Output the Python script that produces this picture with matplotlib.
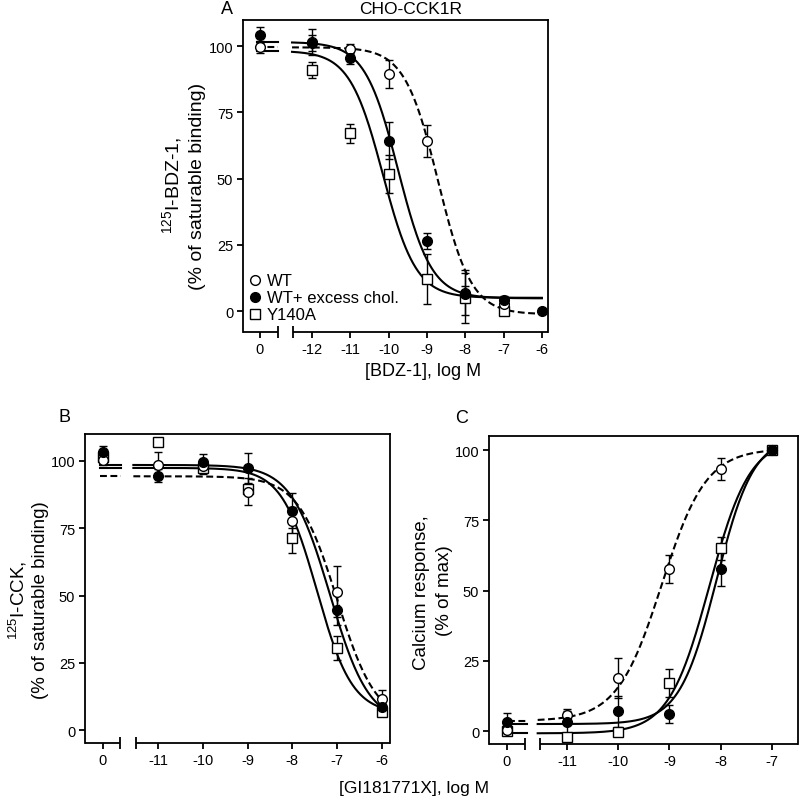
import numpy as np
import matplotlib.pyplot as plt
from matplotlib.lines import Line2D

plt.rcParams["font.family"] = ["Liberation Sans", "DejaVu Sans"]

nan = np.nan

# Panel A: 125I-BDZ-1 binding vs BDZ-1 (dose 0 = no competitor)
a_dose = [0, -12, -11, -10, -9, -8, -7, -6]
a_wt = [99.5, 101.5, 98.8, 89.5, 64.3, 7.0, 2.6, nan]
a_wt_err = [2.3, 5.0, 2.0, 5.3, 6.0, 8.5, 2.0, nan]
a_chol = [104.0, 101.0, 95.3, 64.3, 26.4, 6.4, 4.3, 0.1]
a_chol_err = [3.0, 3.0, 2.0, 7.0, 3.0, 3.0, 1.5, 0.0]
a_y140a = [nan, 91.0, 67.0, 51.7, 12.0, 4.9, 0.1, nan]
a_y140a_err = [nan, 3.0, 3.5, 7.0, 9.5, 9.5, 1.5, nan]
# fitted curves: top, bottom, logIC50, hill slope
a_fit_wt = (99.5, -1.2, -8.71, -1.0)
a_fit_chol = (101.5, 4.8, -9.75, -1.0)
a_fit_y140a = (98.2, 5.0, -10.15, -1.0)

# Panel B: 125I-CCK binding vs GI181771X
b_dose = [0, -11, -10, -9, -8, -7, -6]
b_wt = [100.4, 98.5, 98.0, 88.6, 77.8, 51.4, 11.5]
b_wt_err = [2.0, 5.0, 2.0, 5.0, 5.0, 9.5, 3.5]
b_chol = [103.4, 94.5, 99.5, 97.3, 81.5, 44.7, 8.4]
b_chol_err = [2.0, 2.5, 3.0, 5.5, 6.5, 5.5, 1.5]
b_y140a = [101.5, 107.0, 97.3, 89.6, 71.3, 30.4, 6.6]
b_y140a_err = [2.0, 0.0, 2.0, 2.0, 5.5, 4.5, 1.5]
b_fit_wt = (94.3, 2.7, -7.0, -1.0)
b_fit_chol = (98.5, 2.1, -7.16, -1.0)
b_fit_y140a = (97.4, 6.0, -7.45, -1.1)

# Panel C: calcium response vs GI181771X
c_dose = [0, -11, -10, -9, -8, -7]
c_wt = [0.5, 5.8, 18.9, 57.6, 93.2, 100.0]
c_wt_err = [1.5, 2.0, 7.0, 5.0, 4.0, 0.0]
c_chol = [3.4, 3.1, 7.0, 6.0, 57.6, 100.0]
c_chol_err = [3.0, 4.0, 5.5, 3.3, 6.0, 0.0]
c_y140a = [0.1, -2.2, -0.5, 17.0, 65.0, 100.0]
c_y140a_err = [1.0, 1.0, 1.0, 5.0, 4.0, 0.0]
c_fit_wt = (100.5, 3.6, -9.15, 1.0)
c_fit_chol = (105.0, 2.5, -8.08, 1.2)
c_fit_y140a = (104.0, -0.8, -8.22, 1.1)

labels = ["WT", "WT+ excess chol.", "Y140A"]


def logistic(x, top, bottom, logx50, hill):
    return bottom + (top - bottom) / (1 + 10 ** ((logx50 - x) * hill))


open_circle = dict(marker="o", mfc="white", mec="black")
filled_circle = dict(marker="o", mfc="black", mec="black")
open_square = dict(marker="s", mfc="white", mec="black")
marker_z = [4.5, 5, 4]  # squares under circles, filled on top


def draw_panel(ax, dose, series, fits, vehicle_x, xlim, ylim, brk, left_seg, right_seg):
    ax.set_xlim(*xlim)
    ax.set_ylim(*ylim)
    xpos = [vehicle_x if d == 0 else d for d in dose]

    for params, ls in fits:
        xl = np.linspace(left_seg[0], left_seg[1], 2)
        yl = np.full_like(xl, logistic(-30, *params))
        xr = np.linspace(right_seg[0], right_seg[1], 300)
        yr = logistic(xr, *params)
        for xx, yy in [(xl, yl), (xr, yr)]:
            if ls == "--":
                ax.plot(xx, yy, color="black", lw=1.5, ls="--", dashes=(3.3, 1.7), zorder=2)
            else:
                ax.plot(xx, yy, color="black", lw=1.5, zorder=2)

    handles = []
    for (vals, errs, style), z in zip(series, marker_z):
        ax.errorbar(xpos, vals, yerr=errs, fmt="none", ecolor="black",
                    elinewidth=1.0, capsize=3.2, capthick=1.0, zorder=3)
        ax.plot(xpos, vals, ls="none", ms=7, mew=1.0, zorder=z, **style)
        handles.append(Line2D([], [], ls="none", ms=7, mew=1.0, **style))

    # bottom axis with a break
    ax.spines["bottom"].set_visible(False)
    for sp in ["left", "right", "top"]:
        ax.spines[sp].set_linewidth(1.3)
    tr = ax.get_xaxis_transform()
    ax.plot([xlim[0], brk[0]], [0, 0], color="black", lw=1.3, transform=tr,
            clip_on=False, solid_capstyle="butt")
    ax.plot([brk[1], xlim[1]], [0, 0], color="black", lw=1.3, transform=tr,
            clip_on=False, solid_capstyle="butt")
    ax.plot([brk[0], brk[1]], [0, 0], ls="none", marker="|", ms=8, mew=1.3,
            color="black", transform=tr, clip_on=False)

    ax.set_xticks(xpos)
    ax.set_xticklabels([str(d) for d in dose])
    ax.set_yticks([0, 25, 50, 75, 100])
    ax.tick_params(direction="out", length=4, width=1.3, labelsize=10.5, pad=3)
    return handles


fig = plt.figure(figsize=(8, 8.03), dpi=100)

axA = fig.add_axes([0.30375, 0.5853, 0.38125, 0.3885])
hA = draw_panel(axA, a_dose,
                [(a_wt, a_wt_err, open_circle), (a_chol, a_chol_err, filled_circle),
                 (a_y140a, a_y140a_err, open_square)],
                [(a_fit_wt, "--"), (a_fit_chol, "-"), (a_fit_y140a, "-")],
                -13.36, (-13.80, -5.84), (-7.9, 109.8), (-12.89, -12.50),
                (-13.44, -12.89), (-12.52, -6.0))
axA.legend(hA, labels, loc="lower left", bbox_to_anchor=(0.005, 0.02), frameon=False,
           fontsize=12, handlelength=0.8, handletextpad=0.35, labelspacing=0.12,
           borderpad=0.2, borderaxespad=0)

axB = fig.add_axes([0.10625, 0.07347, 0.38125, 0.3848])
draw_panel(axB, b_dose,
           [(b_wt, b_wt_err, open_circle), (b_chol, b_chol_err, filled_circle),
            (b_y140a, b_y140a_err, open_square)],
           [(b_fit_wt, "--"), (b_fit_chol, "-"), (b_fit_y140a, "-")],
           -12.23, (-12.63, -5.82), (-4.8, 110), (-11.85, -11.49),
           (-12.30, -11.83), (-11.55, -6.0))

axC = fig.add_axes([0.61125, 0.07223, 0.38625, 0.38356])
draw_panel(axC, c_dose,
           [(c_wt, c_wt_err, open_circle), (c_chol, c_chol_err, filled_circle),
            (c_y140a, c_y140a_err, open_square)],
           [(c_fit_wt, "--"), (c_fit_chol, "-"), (c_fit_y140a, "-")],
           -12.17, (-12.52, -6.49), (-4.6, 105), (-11.82, -11.53),
           (-12.15, -11.78), (-11.57, -7.0))


def px(x, y):
    return x / 800, 1 - y / 803


# panel letters and titles
fig.text(*px(227, 10), "A", fontsize=13, ha="center", va="center")
fig.text(*px(411, 10), "CHO-CCK1R", fontsize=12.5, ha="center", va="center")
fig.text(*px(65, 418), "B", fontsize=13, ha="center", va="center")
fig.text(*px(462, 419), "C", fontsize=13, ha="center", va="center")

# axis labels
fig.text(*px(423, 372), "[BDZ-1], log M", fontsize=13, ha="center", va="center")
fig.text(*px(414, 789), "[GI181771X], log M", fontsize=12.5, ha="center", va="center")

fig.text(*px(172, 185), r"$\mathregular{^{125}}$I-BDZ-1,", fontsize=14,
         rotation=90, ha="center", va="center")
fig.text(*px(197, 186), "(% of saturable binding)", fontsize=14,
         rotation=90, ha="center", va="center")
fig.text(*px(18, 600), r"$\mathregular{^{125}}$I-CCK,", fontsize=13.5,
         rotation=90, ha="center", va="center")
fig.text(*px(41, 600), "(% of saturable binding)", fontsize=13.5,
         rotation=90, ha="center", va="center")
fig.text(*px(421, 593), "Calcium response,", fontsize=13.5,
         rotation=90, ha="center", va="center")
fig.text(*px(444, 591), "(% of max)", fontsize=13.5,
         rotation=90, ha="center", va="center")

fig.savefig("out.png", dpi=100)
